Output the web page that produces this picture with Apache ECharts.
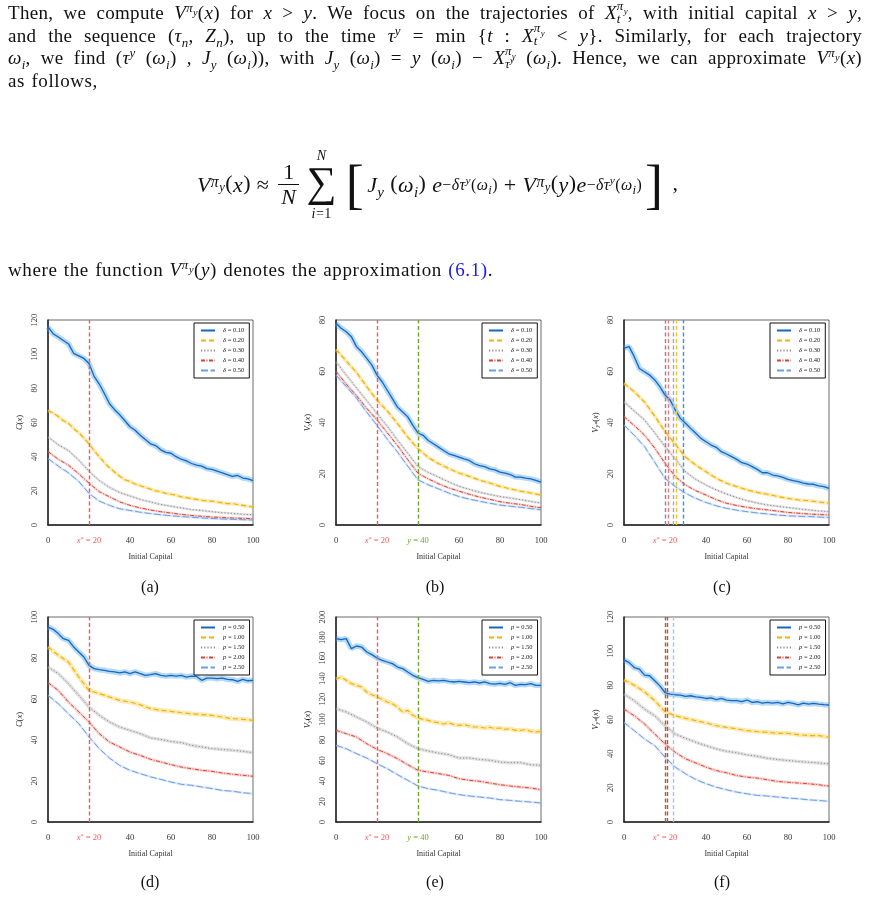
<!DOCTYPE html>
<html>
<head>
<meta charset="utf-8">
<title>Value function approximations</title>
<script src="https://cdn.jsdelivr.net/npm/echarts@6/dist/echarts.min.js"></script>
<style>
  html, body { margin: 0; padding: 0; background: #fff; }
  body { width: 869px; height: 898px; position: relative; overflow: hidden; font-family: 'Liberation Serif', serif; color: #111; }
  #chart { position: absolute; left: 0; top: 0; width: 869px; height: 898px; }
  /* running text of the page */
  .para { position: absolute; left: 8px; width: 854px; font-size: 19px; line-height: 22.5px; letter-spacing: 0.3px; }
  .para div { text-align: justify; text-align-last: justify; height: 22.5px; }
  .para div.last { text-align-last: left; letter-spacing: 0.6px; word-spacing: 1px; }
  sup, sub { font-size: 0.68em; line-height: 0; }
  sup sub, sup sup, sub sub { font-size: 0.8em; }
  .ss { display: inline-block; font-size: 0.68em; line-height: 1.0em; vertical-align: -0.3em; font-style: italic; margin: -0.6em 0; }
  .ss span { display: block; }
  .blue { color: #1a1aee; }
  /* display equation */
  #eq { position: absolute; left: 197px; top: 148px; font-size: 22px; white-space: nowrap; line-height: 1; letter-spacing: 0.4px; }
  #eq > * { vertical-align: middle; }
  #eq sup { font-size: 0.72em; }
  .op { margin: 0 6px; }
  .frac { display: inline-block; text-align: center; margin: 0 3px; }
  .frac span { display: block; padding: 1px 3px; }
  .frac .den { border-top: 1px solid #111; }
  .sum { display: inline-block; text-align: center; margin: 0 6px 0 4px; }
  .sum span { display: block; }
  .sum .sig { font-size: 42px; line-height: 38px; }
  .sum .lim { font-size: 14px; line-height: 15px; }
  .sum .low { margin-top: 5px; }
  .big { font-size: 54px; font-weight: 100; margin: 0 3px; }
  .cap { position: absolute; width: 40px; text-align: center; font-size: 16px; }
</style>
</head>
<body>
<div id="chart"></div>

<div class="para" style="top:2px">
  <div>Then, we compute <i>V</i><sup><i>π<sub>y</sub></i></sup>(<i>x</i>) for <i>x</i> &gt; <i>y</i>. We focus on the trajectories of <i>X</i><span class="ss"><span>π<sub>y</sub></span><span>t</span></span>, with initial capital <i>x</i> &gt; <i>y</i>,</div>
  <div>and the sequence (<i>τ<sub>n</sub></i>, <i>Z<sub>n</sub></i>), up to the time <i>τ<sup>y</sup></i> = min {<i>t</i> : <i>X</i><span class="ss"><span>π<sub>y</sub></span><span>t</span></span> &lt; <i>y</i>}. Similarly, for each trajectory</div>
  <div><i>ω<sub>i</sub></i>, we find (<i>τ<sup>y</sup></i> (<i>ω<sub>i</sub></i>) , <i>J<sub>y</sub></i> (<i>ω<sub>i</sub></i>)), with <i>J<sub>y</sub></i> (<i>ω<sub>i</sub></i>) = <i>y</i> (<i>ω<sub>i</sub></i>) − <i>X</i><span class="ss"><span>π<sub>y</sub></span><span>τ<sup>y</sup></span></span> (<i>ω<sub>i</sub></i>). Hence, we can approximate <i>V</i><sup><i>π<sub>y</sub></i></sup>(<i>x</i>)</div>
  <div class="last">as follows,</div>
</div>

<div id="eq"><i>V</i><sup><i>π<sub>y</sub></i></sup>(<i>x</i>)<span class="op">≈</span><span class="frac"><span>1</span><span class="den"><i>N</i></span></span><span class="sum"><span class="lim"><i>N</i></span><span class="sig">∑</span><span class="lim low"><i>i</i>=1</span></span><span class="big">[</span><i>J<sub>y</sub></i> (<i>ω<sub>i</sub></i>) <i>e</i><sup>−<i>δτ<sup>y</sup></i>(<i>ω<sub>i</sub></i>)</sup><span class="op">+</span><i>V</i><sup><i>π<sub>y</sub></i></sup>(<i>y</i>)<i>e</i><sup>−<i>δτ<sup>y</sup></i>(<i>ω<sub>i</sub></i>)</sup><span class="big">]</span> ,</div>

<div class="para" style="top:259px"><div class="last">where the function <i>V</i><sup><i>π<sub>y</sub></i></sup>(<i>y</i>) denotes the approximation <span class="blue">(6.1)</span>.</div></div>

<div class="cap" style="left:130px;top:578px">(a)</div>
<div class="cap" style="left:415px;top:578px">(b)</div>
<div class="cap" style="left:702px;top:578px">(c)</div>
<div class="cap" style="left:130px;top:873px">(d)</div>
<div class="cap" style="left:415px;top:873px">(e)</div>
<div class="cap" style="left:702px;top:873px">(f)</div>

<script>
// initial capital grids
const X25 = [0, 2.5, 5, 7.5, 10, 12.5, 15, 17.5, 20, 22.5, 25, 27.5, 30, 32.5, 35, 37.5, 40, 42.5, 45, 47.5, 50, 52.5, 55, 57.5, 60, 62.5, 65, 67.5, 70, 72.5, 75, 77.5, 80, 82.5, 85, 87.5, 90, 92.5, 95, 97.5, 100];
const X5 = [0, 5, 10, 15, 20, 25, 30, 35, 40, 45, 50, 55, 60, 65, 70, 75, 80, 85, 90, 95, 100];

const DELTA_NAMES = ['δ = 0.10', 'δ = 0.20', 'δ = 0.30', 'δ = 0.40', 'δ = 0.50'];
const P_NAMES = ['p = 0.50', 'p = 1.00', 'p = 1.50', 'p = 2.00', 'p = 2.50'];

const X_STAR = 20;
const Y_FIXED = 40;
const C_THRESH = [19.9, 21.5, 23.8, 25.7, 29.1];
const F_THRESH = [19.9, 21.2, 23.8];

// (a) C(x), delta varies
const A1 = [116, 112, 110, 108, 106, 100.5, 99, 97.5, 94.5, 87, 82.5, 77, 71, 67.5, 64.5, 61, 57.5, 55.5, 52.5, 50, 47.5, 46.5, 44, 42.5, 42, 40, 38.5, 37.5, 36, 35, 34.5, 33, 32.5, 31.5, 30.5, 29.5, 28.5, 29, 27.5, 27, 26];
const A2 = [67, 65.5, 63.5, 61, 59.5, 56.5, 54, 51, 47.5, 43.5, 40, 36.5, 33.5, 31, 28.5, 26.5, 25.5, 24, 23, 22, 21, 20, 19.5, 18.5, 18, 17.5, 16.5, 16, 15.5, 15, 14.5, 14, 14, 13.5, 13, 12.5, 12.5, 12, 11.5, 11, 10.5];
const A3 = [51.5, 47, 43.5, 38, 31.5, 26, 22, 19, 17, 15, 13.5, 12, 11, 10, 9, 8.5, 7.8, 7.2, 6.8, 6.3, 6];
const A4 = [43, 38.5, 35, 30, 24.5, 19.5, 16.5, 13.5, 11.5, 10, 8.8, 7.8, 7, 6.2, 5.6, 5.1, 4.7, 4.4, 4.1, 3.9, 3.7];
const A5 = [39, 34.5, 30.5, 25.5, 18.5, 14, 11.5, 9.5, 8.5, 7.5, 6.7, 6, 5.4, 4.9, 4.5, 4.1, 3.8, 3.5, 3.3, 3.1, 2.9];

// (b) V_y(x), delta varies
const B1 = [78.7, 76.8, 75.4, 73.5, 69.6, 67.6, 65, 62.4, 58.5, 55.9, 52.6, 49.3, 46, 44.1, 42.2, 38.9, 35.9, 35, 33, 31.7, 30.4, 29.1, 27.8, 27.2, 26.5, 25.8, 25.2, 23.9, 23.2, 22.8, 21.9, 21.5, 20.6, 20.2, 19.7, 18.7, 18.7, 18.3, 18, 17.4, 16.7];
const B2 = [68.5, 64, 59.5, 54, 48.7, 44.5, 39.6, 34.3, 29.8, 26.3, 24, 22, 20.3, 19, 17.5, 16.4, 15.1, 14.1, 13.2, 12.5, 11.7];
const B3 = [63.7, 58.5, 53.5, 48.5, 43.5, 38.5, 33.2, 28, 22.8, 20.5, 18.7, 16.8, 15.1, 13.9, 12.8, 11.9, 11.1, 10.5, 9.9, 9.2, 8.6];
const B4 = [60, 55, 50.5, 45.5, 41, 36, 31, 25.5, 20.2, 18, 16.1, 14.5, 13.2, 12, 10.9, 10, 9.1, 8.5, 8, 7.3, 6.7];
const B5 = [58.5, 54, 49.5, 44, 38.9, 33.5, 28.5, 23, 17.6, 15.7, 14.1, 12.5, 11.1, 10.1, 9.3, 8.5, 7.8, 7.3, 6.9, 6.4, 5.9];

// (c) V_y*(x), delta varies
const C1 = [69, 69.6, 65.7, 61.1, 59.8, 58.5, 56.6, 54, 50.7, 48.8, 44.9, 41.6, 39.7, 37.7, 35.8, 33.8, 32.5, 31.2, 30.3, 28.6, 27.7, 26.7, 25.6, 24.3, 23.8, 22.8, 21.7, 20.4, 20.4, 19.5, 19.2, 18.6, 17.8, 17.3, 16.9, 16.3, 16, 15.9, 15.3, 15, 14.3];
const C2 = [55.3, 52, 48, 42.5, 36.5, 31.5, 26.5, 23.4, 20.8, 18.2, 16.3, 15, 13.7, 12.7, 12, 11.1, 10.4, 9.8, 9.5, 9, 8.5];
const C3 = [48.1, 44.5, 41, 36, 30.6, 25.8, 20.8, 17.8, 15.6, 13.7, 12.1, 10.7, 9.5, 8.6, 7.8, 7.3, 6.8, 6.3, 5.9, 5.5, 5.2];
const C4 = [42.3, 38.8, 35.1, 30, 24.1, 18.9, 15.6, 13.4, 11.7, 9.9, 8.5, 7.6, 6.9, 6.3, 5.9, 5.4, 4.9, 4.6, 4.3, 4.1, 3.9];
const C5 = [39, 35, 30.6, 24.5, 18.2, 15, 12.4, 10.4, 8.8, 7.5, 6.5, 5.8, 5.2, 4.7, 4.3, 3.9, 3.6, 3.4, 3.3, 3.1, 2.9];

// (d) C(x), p varies
const D1 = [95.1, 94, 91.9, 89.4, 88.6, 85.4, 82.9, 80.5, 76.4, 74.8, 74.3, 74, 73.5, 73.2, 72.7, 73.2, 72.4, 73.2, 72.4, 71.5, 71.9, 72.4, 71.5, 71.2, 71.5, 71.2, 71.5, 70.7, 71.2, 71, 69.1, 70.2, 70.2, 69.9, 70.2, 69.6, 69.4, 68.6, 69.6, 68.9, 69.1];
const D2 = [85.4, 81.3, 78, 70.7, 64.2, 62.6, 61, 59.3, 58.5, 57.2, 55.3, 54.5, 54, 53.3, 52.8, 52.4, 52, 51.2, 50.4, 50.1, 49.6];
const D3 = [75.6, 72.4, 67.5, 61.8, 56.1, 52, 48.8, 46.3, 44.7, 43.1, 41, 40.3, 39.3, 38.7, 37.4, 36.6, 35.8, 35.4, 35, 34.5, 33.8];
const D4 = [68, 64.2, 58.5, 53.7, 48.8, 43.1, 39, 36.6, 34.1, 32.5, 30.6, 29.3, 28, 26.8, 26, 25.2, 24.7, 23.9, 23.3, 22.8, 22.3];
const D5 = [61.8, 57.7, 52.8, 48, 41.5, 35.8, 31.2, 27.6, 25.2, 23.6, 22, 20.8, 19.5, 18.4, 17.9, 17.1, 16.3, 15.4, 15, 14.3, 13.8];

// (e) V_y(x), p varies
const E1 = [178.9, 177.9, 178.9, 169.1, 171.7, 170.7, 165.9, 163.3, 160, 157.7, 156.1, 154.5, 151.2, 149.6, 146.3, 143.1, 140.8, 139.2, 137.2, 138.2, 137.6, 138.2, 137.2, 136.6, 137.2, 136.6, 135.9, 136.6, 135.6, 136.6, 135, 134.6, 135.3, 134.3, 135.9, 133.3, 134.3, 134, 135, 133.3, 133.3];
const E2 = [139.2, 141.5, 138.2, 135, 133.3, 131.7, 126.8, 124.2, 122, 119.7, 117.1, 115.4, 112.2, 107.3, 108.9, 104.1, 101.5, 100.2, 99.2, 97.6, 96.9, 95.6, 96.9, 95, 94.3, 95, 93.7, 92.7, 92.7, 91.7, 92.4, 91.1, 91.7, 90.4, 91.1, 89.4, 89.4, 90.1, 88.5, 87.8, 88.5];
const E3 = [110.6, 107.3, 102.4, 97.6, 91.7, 87.8, 82.9, 76.4, 71.5, 69.3, 67.3, 65.7, 62.4, 62.4, 61.1, 60.2, 58.5, 57.9, 57.9, 55.9, 55.3];
const E4 = [89.4, 86.2, 82.9, 76.4, 70.9, 66.7, 61.8, 55.9, 50.4, 48.8, 47.2, 45.5, 42.3, 40.7, 39.7, 38, 36.4, 35.1, 34.1, 33.2, 31.5];
const E5 = [74.8, 71.5, 66.7, 62.4, 56.9, 52, 46.2, 40.7, 35.1, 32.5, 30.9, 28.6, 26.7, 25.4, 24.4, 23.4, 21.8, 21.1, 20.2, 19.5, 18.5];

// (f) V_y*(x), p varies
const F1 = [94.9, 93.3, 90.4, 89.5, 86, 85.6, 82.7, 79.7, 75.8, 74.9, 74.5, 74.3, 73.5, 73.9, 73.3, 72.9, 72.3, 72.7, 71.6, 72.3, 71.4, 71, 71, 70.4, 71.4, 70, 70.4, 69.6, 70, 69.6, 70, 69.2, 70, 69.4, 68.5, 69.6, 69, 69.4, 69, 68.7, 68.5];
const F2 = [83.2, 80.1, 76.2, 71, 64.6, 62.2, 60.7, 59.3, 58, 56.4, 55.4, 54.5, 53.5, 52.9, 52.5, 51.9, 51.9, 51.1, 50.6, 50.6, 49.6];
const F3 = [74.9, 71, 66.1, 62.2, 56.4, 51.5, 49, 46.7, 44.7, 42.8, 41.4, 40.5, 39.3, 38.5, 37.3, 36.6, 36, 35.4, 35, 34.6, 34];
const F4 = [66.1, 62.2, 57.4, 51.5, 45.7, 40.8, 37, 34.6, 32.1, 30.1, 28.8, 27.2, 26.3, 25.7, 24.7, 23.7, 23.3, 22.8, 22.4, 21.8, 21];
const F5 = [58.3, 53.5, 48.6, 44.7, 37.9, 32.1, 28.2, 24.9, 22.4, 20.4, 18.9, 17.5, 16.5, 15.6, 15.2, 14.6, 14, 13.6, 13, 12.6, 12.1];

const FONT = "'Liberation Serif', serif";
const RED = '#f25a5a';
const GREEN = '#6aa528';

const STYLES = [
    { color: '#1468c0', band: 'rgba(80,165,230,0.42)', type: 'solid', width: 1.3 },
    { color: '#f0b400', band: 'rgba(245,205,80,0.42)', type: [5, 3], width: 1.2 },
    { color: '#8a8a8a', band: 'rgba(175,175,175,0.38)', type: [1.2, 2], width: 1 },
    { color: '#d8433c', band: 'rgba(230,120,110,0.32)', type: [4, 1.5, 1, 1.5], width: 1 },
    { color: '#6c9de4', band: 'rgba(150,185,235,0.32)', type: [7, 2.5], width: 1 }
];

const TOP_BANDS = [5.5, 3.5, 2.5, 2.5, 2.5];
const BOTTOM_BANDS = [5.5, 4.5, 3.5, 3, 2.5];

const PANELS = [
    { left: 48, top: 320, ymax: 120, yname: '{i|C}{n|(}{i|x}{n|)}', names: DELTA_NAMES, xs: [X25, X25, X5, X5, X5], ys: [A1, A2, A3, A4, A5], bands: TOP_BANDS,
      vlines: [{ x: X_STAR, c: RED }], yTag: false },
    { left: 336, top: 320, ymax: 80, yname: '{i|V}{s|y}{n|(}{i|x}{n|)}', names: DELTA_NAMES, xs: [X25, X5, X5, X5, X5], ys: [B1, B2, B3, B4, B5], bands: TOP_BANDS,
      vlines: [{ x: X_STAR, c: RED }, { x: Y_FIXED, c: GREEN }], yTag: true },
    { left: 624, top: 320, ymax: 80, yname: '{i|V}{s|y*}{n|(}{i|x}{n|)}', names: DELTA_NAMES, xs: [X25, X5, X5, X5, X5], ys: [C1, C2, C3, C4, C5], bands: TOP_BANDS,
      vlines: [{ x: C_THRESH[0], c: '#b07890' }, { x: C_THRESH[1], c: '#e58080' }, { x: C_THRESH[2], c: '#a8a8a8' }, { x: C_THRESH[3], c: '#f2c431' }, { x: C_THRESH[4], c: '#3a95e0' }], yTag: false },
    { left: 48, top: 617, ymax: 100, yname: '{i|C}{n|(}{i|x}{n|)}', names: P_NAMES, xs: [X25, X5, X5, X5, X5], ys: [D1, D2, D3, D4, D5], bands: BOTTOM_BANDS,
      vlines: [{ x: X_STAR, c: RED }], yTag: false },
    { left: 336, top: 617, ymax: 200, yname: '{i|V}{s|y}{n|(}{i|x}{n|)}', names: P_NAMES, xs: [X25, X25, X5, X5, X5], ys: [E1, E2, E3, E4, E5], bands: BOTTOM_BANDS,
      vlines: [{ x: X_STAR, c: RED }, { x: Y_FIXED, c: GREEN }], yTag: true },
    { left: 624, top: 617, ymax: 120, yname: '{i|V}{s|y*}{n|(}{i|x}{n|)}', names: P_NAMES, xs: [X25, X5, X5, X5, X5], ys: [F1, F2, F3, F4, F5], bands: BOTTOM_BANDS,
      vlines: [{ x: F_THRESH[0], c: '#a4623e' }, { x: F_THRESH[1], c: '#c0503e' }, { x: F_THRESH[2], c: '#a8c4ec' }], yTag: false }
];

function pairs(xs, ys) {
    return xs.map((x, i) => [x, ys[i]]);
}

const labelRich = {
    rx: { color: RED, fontStyle: 'italic', fontSize: 8.5, fontFamily: FONT },
    rs: { color: RED, fontSize: 6, fontFamily: FONT, verticalAlign: 'top' },
    r: { color: RED, fontSize: 8.5, fontFamily: FONT },
    gx: { color: GREEN, fontStyle: 'italic', fontSize: 8.5, fontFamily: FONT },
    g: { color: GREEN, fontSize: 8.5, fontFamily: FONT }
};

const nameRich = {
    i: { fontStyle: 'italic', fontSize: 8.5, fontFamily: FONT, color: '#222' },
    n: { fontSize: 8.5, fontFamily: FONT, color: '#222' },
    s: { fontStyle: 'italic', fontSize: 6, fontFamily: FONT, color: '#222', verticalAlign: 'bottom' }
};

const grid = [], xAxis = [], yAxis = [], series = [], legend = [];

PANELS.forEach((p, gi) => {
    grid.push({ left: p.left, top: p.top, width: 205, height: 205, show: true, borderColor: '#444', borderWidth: 0.8 });
    xAxis.push({
        type: 'value', gridIndex: gi, min: 0, max: 100, interval: 20,
        axisLine: { lineStyle: { color: '#222', width: 1.5 } },
        axisTick: { show: false },
        splitLine: { show: false },
        axisLabel: {
            fontSize: 8.5, fontFamily: FONT, color: '#333', margin: 11, rich: labelRich,
            formatter: v => {
                if (v === X_STAR) return '{rx|x}{rs|*}{r| = ' + X_STAR + '}';
                if (p.yTag && v === Y_FIXED) return '{gx|y}{g| = ' + Y_FIXED + '}';
                return String(v);
            }
        },
        name: 'Initial Capital', nameLocation: 'middle', nameGap: 28,
        nameTextStyle: { fontSize: 8, fontFamily: FONT, color: '#333' }
    });
    yAxis.push({
        type: 'value', gridIndex: gi, min: 0, max: p.ymax, interval: 20,
        axisLine: { show: true, lineStyle: { color: '#222', width: 1.5 } },
        axisTick: { show: false },
        splitLine: { show: false },
        axisLabel: { fontSize: 8.5, fontFamily: FONT, color: '#333', rotate: 90, margin: 9 },
        name: p.yname, nameLocation: 'middle', nameGap: 24,
        nameTextStyle: { rich: nameRich }
    });

    p.ys.forEach((ys, k) => {
        const st = STYLES[k];
        const data = pairs(p.xs[k], ys);
        // confidence band drawn as a wide translucent stroke
        series.push({
            type: 'line', name: 'band-' + gi + '-' + k, xAxisIndex: gi, yAxisIndex: gi,
            data: data, symbol: 'none', silent: true, z: 1,
            lineStyle: { color: st.band, width: p.bands[k] }
        });
        const s = {
            type: 'line', name: p.names[k], xAxisIndex: gi, yAxisIndex: gi,
            data: data, symbol: 'none', symbolSize: 0, z: 3,
            itemStyle: { color: st.color },
            lineStyle: { color: st.color, width: st.width, type: st.type }
        };
        if (k === 0) {
            s.markLine = {
                silent: true, symbol: ['none', 'none'], label: { show: false },
                lineStyle: { type: [4, 2.5], width: 1.4 },
                data: p.vlines.map(v => ({ xAxis: v.x, lineStyle: { color: v.c } }))
            };
        }
        series.push(s);
    });

    legend.push({
        data: p.names, left: p.left + 146, top: p.top + 3, orient: 'vertical',
        itemWidth: 14, itemHeight: 6, itemGap: 3, padding: [4, 5, 4, 6],
        borderColor: '#111', borderWidth: 1, backgroundColor: '#fff',
        selectedMode: false,
        itemStyle: { opacity: 0 },
        formatter: n => '{g|' + n[0] + '}' + n.slice(1),
        textStyle: {
            fontSize: 6.5, fontFamily: FONT, color: '#222', padding: [0, 0, 0, 3],
            rich: { g: { fontStyle: 'italic', fontSize: 6.5, fontFamily: FONT, color: '#222' } }
        }
    });
});

const chart = echarts.init(document.getElementById('chart'));
chart.setOption({
    animation: false,
    backgroundColor: 'transparent',
    grid: grid,
    xAxis: xAxis,
    yAxis: yAxis,
    legend: legend,
    series: series
});
</script>
</body>
</html>
